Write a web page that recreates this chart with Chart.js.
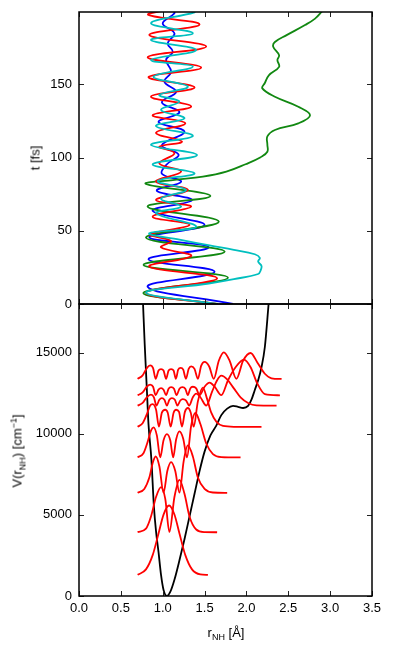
<!DOCTYPE html>
<html>
<head>
<meta charset="utf-8">
<script src="https://cdn.jsdelivr.net/npm/chart.js@4.4.0/dist/chart.umd.min.js"></script>
<style>
  body { margin: 0; background: #fff; }
  #wrap { position: relative; width: 394px; height: 653px; font-family: "Liberation Sans", Arial, sans-serif; font-size: 13px; color: #000; }
  .box { position: absolute; left: 0; width: 394px; }
  .lbl { position: absolute; white-space: nowrap; line-height: 1; }
  .rot { transform: translate(-50%, -50%) rotate(-90deg); }
  .hor { transform: translate(-50%, -50%); }
  sub, sup { font-size: 9px; line-height: 0; }
</style>
</head>
<body>
<div id="wrap">
  <div class="box" style="top:0;height:320px"><canvas id="trajChart"></canvas></div>
  <div class="box" style="top:290px;height:363px"><canvas id="potChart"></canvas></div>
  <div class="lbl rot" style="left:35px;top:158px">t [fs]</div>
  <div class="lbl rot" style="left:17px;top:451px">V(r<sub>NH</sub>) [cm<sup>&minus;1</sup>]</div>
  <div class="lbl hor" style="left:226px;top:632px">r<sub>NH</sub> [&Aring;]</div>
</div>
<script>
// axes
var rTicks = [0, 0.5, 1, 1.5, 2, 2.5, 3, 3.5];
var rTickLabels = ['0.0', '0.5', '1.0', '1.5', '2.0', '2.5', '3.0', '3.5'];
var tTicks = [0, 50, 100, 150];
var vTicks = [0, 5000, 10000, 15000];

// trajectories: r_NH [A] vs t [fs]
var blueT = [0, 11.8, 22, 30.5, 38.7, 45.6, 54, 63.6, 71, 77.4, 83.6, 89, 95.5, 102, 108.5, 117.8, 124.3, 131, 137.8, 145, 151.8, 158.7, 166.7, 172.3, 178, 184.9, 191.7, 198.6, 201];
var blueR = [1.84, 0.82, 1.62, 0.83, 1.55, 0.84, 1.50, 0.88, 1.35, 0.93, 1.22, 0.99, 1.05, 1.19, 0.99, 1.26, 0.95, 1.20, 0.99, 1.16, 1.02, 1.10, 1.04, 1.12, 1.06, 1.14, 1.00, 1.14, 1.12];

var redT = [0, 7.7, 17.5, 25.5, 32.8, 38.7, 43, 47.5, 54, 59.7, 66.5, 71, 78, 83.6, 90.4, 96, 103, 107.5, 111, 117, 123.5, 129, 135, 141.7, 148, 155, 161.5, 168.6, 175.9, 183.8, 191, 197.5, 201];
var redR = [1.64, 0.80, 1.65, 0.84, 1.34, 0.98, 1.10, 0.85, 1.32, 0.88, 1.34, 0.92, 1.30, 0.92, 1.22, 0.96, 1.14, 0.96, 1.23, 0.92, 1.27, 0.88, 1.34, 0.86, 1.38, 0.83, 1.46, 0.82, 1.52, 0.84, 1.44, 0.83, 1.05];

var greenT = [0, 7.7, 18, 26.7, 35.8, 45.3, 56.3, 66.5, 73.8, 82, 84.7, 87, 90.4, 95.5, 100.3, 104, 109, 114.5, 118.9, 123.4, 129, 134.8, 141.6, 147.3, 151, 156.4, 162, 166.7, 170, 175.8, 179, 183.7, 190.6, 195, 199.7, 201];
var greenR = [1.66, 0.77, 1.78, 0.77, 1.74, 0.80, 1.67, 0.82, 1.57, 0.80, 1.12, 1.48, 1.76, 1.99, 2.17, 2.25, 2.25, 2.25, 2.34, 2.62, 2.76, 2.62, 2.34, 2.19, 2.22, 2.27, 2.39, 2.37, 2.39, 2.32, 2.34, 2.48, 2.70, 2.82, 2.90, 2.92];

var cyanT = [0, 7.7, 14, 17, 20.5, 23, 26, 29, 31.5, 34, 37, 40, 44, 48.3, 52.8, 62, 66.5, 72, 78, 84, 89.3, 95.4, 101.8, 108.7, 114.8, 121.6, 126.9, 132.6, 138.3, 142.8, 148.5, 155.3, 162.2, 166.7, 173.6, 180.4, 185, 191.8, 199.3, 201];
var cyanR = [1.64, 0.80, 1.55, 1.85, 2.14, 2.17, 2.18, 2.14, 2.16, 2.10, 1.85, 1.56, 1.20, 0.84, 1.40, 0.92, 1.22, 0.98, 1.28, 0.94, 1.38, 0.88, 1.41, 0.86, 1.36, 0.92, 1.26, 0.98, 1.20, 0.96, 1.30, 0.89, 1.36, 0.86, 1.40, 0.86, 1.36, 0.86, 1.38, 1.36];

// potential V(r_NH) [cm-1]
var potR = [0.765, 0.785, 0.81, 0.83, 0.865, 0.895, 0.92, 0.95, 0.98, 1.01, 1.05, 1.09, 1.14, 1.20, 1.26, 1.32, 1.38, 1.44, 1.50, 1.57, 1.64, 1.70, 1.77, 1.84, 1.90, 1.96, 2.02, 2.06, 2.10, 2.14, 2.18, 2.22, 2.265];
var potV = [18000, 15500, 12800, 10600, 8400, 5500, 4000, 2700, 1300, 370, 0, 250, 1000, 2200, 3500, 4900, 6300, 7700, 8900, 9900, 10500, 11150, 11550, 11720, 11660, 11590, 11720, 12100, 12700, 13300, 14100, 15350, 18000];

// vibrational densities drawn at their level energies
var wave0R = [0.70, 0.80, 0.88, 0.95, 1.01, 1.076, 1.14, 1.20, 1.27, 1.35, 1.45, 1.54];
var wave0V = [1305, 1640, 2520, 3850, 5020, 5580, 5020, 3850, 2520, 1640, 1330, 1300];
var wave1R = [0.70, 0.80, 0.86, 0.92, 0.98, 1.03, 1.08, 1.14, 1.20, 1.26, 1.32, 1.40, 1.50, 1.65];
var wave1V = [3935, 4150, 4900, 6100, 6710, 6000, 3950, 6100, 7160, 6300, 4900, 4100, 3940, 3930];
var wave2R = [0.70, 0.78, 0.84, 0.88, 0.916, 0.96, 1.01, 1.055, 1.10, 1.15, 1.20, 1.25, 1.30, 1.36, 1.42, 1.50, 1.60, 1.77];
var wave2V = [6365, 6600, 7300, 8200, 8600, 8000, 6370, 7700, 8250, 7700, 6370, 8300, 9280, 8600, 7300, 6600, 6380, 6360];
var wave3R = [0.70, 0.77, 0.82, 0.86, 0.89, 0.93, 0.97, 1.01, 1.05, 1.09, 1.125, 1.16, 1.20, 1.245, 1.29, 1.34, 1.39, 1.45, 1.52, 1.60, 1.70, 1.93];
var wave3V = [8545, 8800, 9500, 10200, 10390, 9900, 8550, 9600, 9980, 9600, 8550, 9650, 10150, 9700, 8550, 10500, 11280, 10600, 9400, 8750, 8560, 8540];
var wave4R = [0.70, 0.76, 0.81, 0.85, 0.88, 0.92, 0.955, 0.99, 1.03, 1.06, 1.095, 1.13, 1.16, 1.195, 1.23, 1.265, 1.30, 1.335, 1.37, 1.42, 1.48, 1.53, 1.58, 1.64, 1.72, 1.85, 2.18];
var wave4V = [10435, 10650, 11200, 11750, 11830, 11500, 10440, 11300, 11480, 11300, 10440, 11300, 11480, 11350, 10440, 11350, 11590, 11300, 10440, 12000, 12850, 12150, 11300, 10750, 10480, 10430, 10430];
var wave5R = [0.70, 0.76, 0.81, 0.86, 0.895, 0.925, 0.96, 0.99, 1.02, 1.05, 1.08, 1.11, 1.145, 1.175, 1.21, 1.24, 1.28, 1.315, 1.36, 1.40, 1.45, 1.52, 1.59, 1.65, 1.70, 1.77, 1.85, 1.93, 2.02, 2.12, 2.36];
var wave5V = [11735, 11900, 12250, 12410, 12250, 11740, 12100, 12200, 12100, 11740, 12100, 12200, 12100, 11740, 12050, 12140, 12050, 11740, 12250, 12470, 12250, 11740, 12600, 13300, 13580, 13350, 12800, 12250, 11900, 11750, 11730];
var wave6R = [0.70, 0.76, 0.81, 0.85, 0.885, 0.915, 0.95, 0.98, 1.01, 1.04, 1.07, 1.10, 1.135, 1.165, 1.20, 1.235, 1.27, 1.30, 1.33, 1.36, 1.40, 1.44, 1.50, 1.56, 1.62, 1.70, 1.78, 1.87, 1.97, 2.05, 2.13, 2.22, 2.40];
var wave6V = [12375, 12550, 12900, 13030, 12900, 12380, 12720, 12820, 12720, 12380, 12780, 12880, 12780, 12380, 12780, 12880, 12780, 12380, 12800, 12900, 12800, 12380, 12900, 13150, 12900, 12380, 13300, 14100, 14570, 14100, 13100, 12450, 12370];
var wave7R = [0.70, 0.76, 0.81, 0.85, 0.885, 0.915, 0.95, 0.98, 1.01, 1.04, 1.07, 1.10, 1.13, 1.157, 1.185, 1.215, 1.245, 1.277, 1.31, 1.34, 1.38, 1.42, 1.46, 1.50, 1.555, 1.61, 1.67, 1.73, 1.80, 1.88, 1.96, 2.05, 2.13, 2.22, 2.30, 2.42];
var wave7V = [13385, 13600, 14050, 14220, 14050, 13390, 13900, 13990, 13900, 13390, 13900, 13990, 13900, 13390, 13950, 14060, 13950, 13390, 14000, 14160, 14000, 13390, 14200, 14430, 14150, 13390, 14500, 15020, 14500, 13390, 14500, 14980, 14400, 13700, 13420, 13380];

function pts(xs, ys) {
  return xs.map(function (x, i) { return { x: x, y: ys[i] }; });
}

var tickFont = { family: '"Liberation Sans", Arial, sans-serif', size: 13 };

// frame plus inward ticks on all four sides
var frameTicks = {
  id: 'frameTicks',
  afterDraw: function (chart) {
    var ctx = chart.ctx, a = chart.chartArea, xs = chart.scales.x, ys = chart.scales.y;
    ctx.save();
    ctx.strokeStyle = '#222';
    ctx.lineWidth = 1;
    ctx.beginPath();
    rTicks.forEach(function (v) {
      var px = Math.round(xs.getPixelForValue(v)) + 0.5;
      ctx.moveTo(px, a.top); ctx.lineTo(px, a.top + 5);
      ctx.moveTo(px, a.bottom); ctx.lineTo(px, a.bottom - 5);
    });
    ys.ticks.forEach(function (t) {
      var py = Math.round(ys.getPixelForValue(t.value)) + 0.5;
      ctx.moveTo(a.left, py); ctx.lineTo(a.left + 5, py);
      ctx.moveTo(a.right, py); ctx.lineTo(a.right - 5, py);
    });
    ctx.stroke();
    ctx.lineWidth = 1.5;
    ctx.strokeStyle = '#000';
    ctx.strokeRect(a.left, a.top, a.right - a.left, a.bottom - a.top);
    ctx.restore();
  }
};

function line(xs, ys, color, smooth) {
  var d = {
    data: pts(xs, ys),
    borderColor: color,
    borderWidth: 1.8,
    pointRadius: 0,
    showLine: true,
    fill: false
  };
  if (smooth === 'mono') {
    d.cubicInterpolationMode = 'monotone';
  } else {
    d.tension = 0.4;
  }
  return d;
}

function yAxis(min, max, ticks) {
  return {
    min: min,
    max: max,
    afterBuildTicks: function (s) { s.ticks = ticks.map(function (v) { return { value: v }; }); },
    afterFit: function (s) {
      s.width = 79;
      s.paddingTop = 0;
      s.paddingBottom = 0;
    },
    ticks: {
      color: '#000',
      font: tickFont,
      padding: 7,
      callback: function (v) { return String(v); }
    },
    grid: { display: false, drawTicks: false },
    border: { display: false }
  };
}

var trajChart = new Chart(document.getElementById('trajChart'), {
  type: 'scatter',
  data: {
    datasets: [
      line(cyanR, cyanT, '#00bfbf'),
      line(redR, redT, '#ff0000'),
      line(greenR, greenT, '#118811'),
      line(blueR, blueT, '#0000ff')
    ]
  },
  options: {
    responsive: true,
    maintainAspectRatio: false,
    animation: false,
    layout: { padding: { left: 0, right: 22, top: 12, bottom: 16 } },
    plugins: { legend: { display: false }, tooltip: { enabled: false } },
    scales: {
      x: { display: false, min: 0, max: 3.5 },
      y: yAxis(0, 199.5, tTicks)
    }
  },
  plugins: [frameTicks]
});

var waveColor = '#ff0000';
var potChart = new Chart(document.getElementById('potChart'), {
  type: 'scatter',
  data: {
    datasets: [
      line(wave7R, wave7V, waveColor, 'mono'),
      line(wave6R, wave6V, waveColor, 'mono'),
      line(wave5R, wave5V, waveColor, 'mono'),
      line(wave4R, wave4V, waveColor, 'mono'),
      line(wave3R, wave3V, waveColor, 'mono'),
      line(wave2R, wave2V, waveColor, 'mono'),
      line(wave1R, wave1V, waveColor, 'mono'),
      line(wave0R, wave0V, waveColor, 'mono'),
      line(potR, potV, '#000000', 'mono')
    ]
  },
  options: {
    responsive: true,
    maintainAspectRatio: false,
    animation: false,
    layout: { padding: { left: 0, right: 22, top: 14, bottom: 0 } },
    plugins: { legend: { display: false }, tooltip: { enabled: false } },
    scales: {
      x: {
        min: 0,
        max: 3.5,
        afterBuildTicks: function (s) { s.ticks = rTicks.map(function (v) { return { value: v }; }); },
        afterFit: function (s) { s.height = 57; },
        ticks: {
          color: '#000',
          font: tickFont,
          padding: 5,
          autoSkip: false,
          maxRotation: 0,
          callback: function (v, i) { return rTickLabels[i]; }
        },
        grid: { display: false, drawTicks: false },
        border: { display: false }
      },
      y: yAxis(0, 18000, vTicks)
    }
  },
  plugins: [frameTicks]
});
</script>
</body>
</html>
